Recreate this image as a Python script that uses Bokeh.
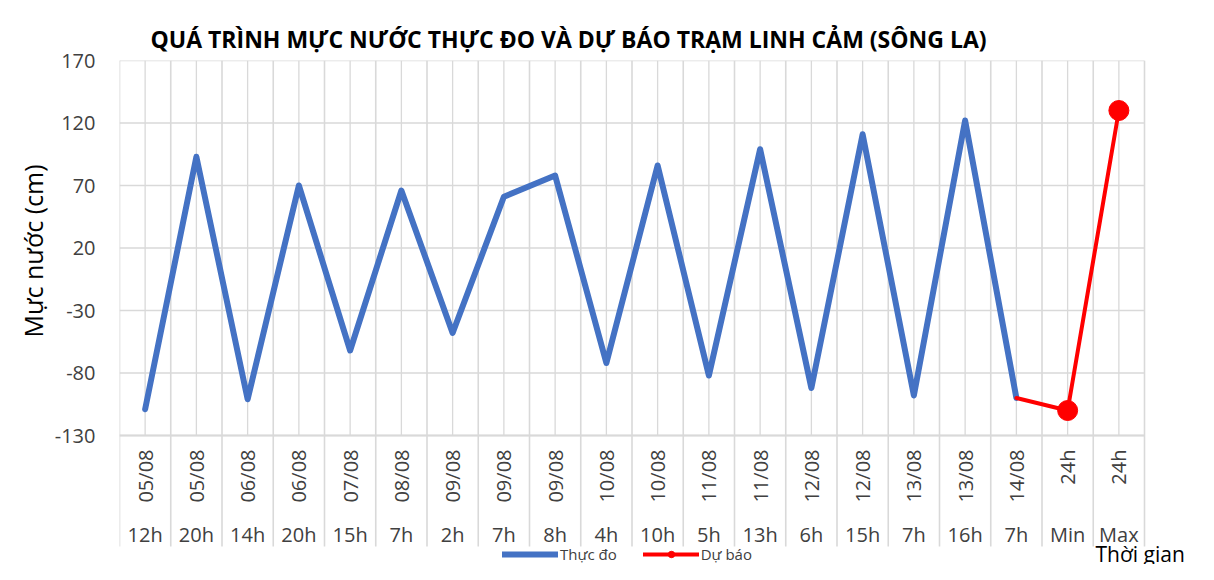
from math import pi
from bokeh.plotting import figure
from bokeh.models import (FixedTicker, Legend, LegendItem, Label, LabelSet,
                          ColumnDataSource, Title)
from bokeh.core.properties import value
from bokeh.embed import file_html
from bokeh.resources import INLINE

# ---- data ----
dates = ["05/08", "05/08", "06/08", "06/08", "07/08", "08/08", "09/08", "09/08",
         "09/08", "10/08", "10/08", "11/08", "11/08", "12/08", "12/08", "13/08",
         "13/08", "14/08", "24h", "24h"]
hours = ["12h", "20h", "14h", "20h", "15h", "7h", "2h", "7h", "8h", "4h", "10h",
         "5h", "13h", "6h", "15h", "7h", "16h", "7h", "Min", "Max"]
observed = [-109, 93, -101, 70, -62, 66, -48, 61, 78, -72, 86, -82, 99, -92,
            111, -98, 122, -100]
forecast = [-100, -110, 130]          # starts at the last observed point
y_ticks = [-130, -80, -30, 20, 70, 120, 170]
y_tick_labels = ["-130", "-80", "-30", "20", "70", "120", "170"]

title_text = "QUÁ TRÌNH MỰC NƯỚC THỰC ĐO VÀ DỰ BÁO TRẠM LINH CẢM (SÔNG LA)"
y_title = "Mực nước (cm)"
x_title = "Thời gian"
legend_labels = ["Thực đo", "Dự báo"]

# ---- layout (pixels) ----
W, H = 1198, 564
LEFT, TOP = 119, 60          # plot-area top-left corner
PLOT_W, PLOT_H = 1025, 375   # plot-area size (value axis part)

n = len(dates)
x_all = list(range(n))
x_obs = x_all[:len(observed)]
x_fc = x_all[len(observed) - 1:len(observed) - 1 + len(forecast)]
x_mark = x_fc[1:]
y_mark = forecast[1:]
boundaries = [i - 0.5 for i in range(n + 1)]

ymin, ymax = y_ticks[0], y_ticks[-1]
u_per_px_y = (ymax - ymin) / PLOT_H
u_per_px_x = n / PLOT_W
frame_h = H - TOP
frame_w = W - LEFT
y_lo = ymax - frame_h * u_per_px_y           # frame also holds category rows
x_lo = -0.5
x_hi = x_lo + frame_w * u_per_px_x


def y_at(px_from_top):
    return ymax - (px_from_top - TOP) * u_per_px_y


FONT = "Open Sans"
GRID = "#d9d9d9"
TXT = "#404040"

p = figure(width=W, height=H, x_range=(x_lo, x_hi), y_range=(y_lo, ymax),
           x_axis_type=None, output_backend="svg", toolbar_location=None,
           min_border_left=LEFT, min_border_right=0, min_border_top=TOP,
           min_border_bottom=0)
p.outline_line_color = None
p.background_fill_color = "white"
p.border_fill_color = "white"
p.ygrid.visible = False

# title
p.title.text = title_text
p.title.text_font = FONT
p.title.text_font_size = "23px"
p.title.text_font_style = "bold"
p.title.text_color = "#000000"
p.title.align = "left"
p.title.offset = 31
p.title.standoff = 12

# y axis
p.yaxis.ticker = FixedTicker(ticks=y_ticks)
p.yaxis.major_label_overrides = {v: s for v, s in zip(y_ticks, y_tick_labels)}
p.yaxis.axis_line_color = None
p.yaxis.major_tick_line_color = None
p.yaxis.minor_tick_line_color = None
p.yaxis.major_label_text_font = FONT
p.yaxis.major_label_text_font_size = "20px"
p.yaxis.major_label_text_color = TXT
p.yaxis.major_label_standoff = 18

p.add_layout(Title(text=y_title, align="left", offset=227, standoff=3,
                   text_font=FONT, text_font_size="25px",
                   text_font_style="normal", text_color="#000000"), "left")

# grid lines (value part) and category separators
p.segment(x0=x_lo, x1=n - 0.5, y0=y_ticks, y1=y_ticks, line_color=GRID,
          line_width=1.3)
p.segment(x0=x_all, x1=x_all, y0=ymin, y1=ymax, line_color=GRID,
          line_width=1.3)
p.segment(x0=boundaries, x1=boundaries, y0=y_at(546), y1=ymax,
          line_color=GRID, line_width=1.6)
p.segment(x0=[x_lo], x1=[n - 0.5], y0=[ymin], y1=[ymin], line_color=GRID,
          line_width=2.2)

# series
r_obs = p.line(x_obs, observed, line_color="#4472C4", line_width=6,
               line_join="round", line_cap="round")
r_fc = p.line(x_fc, forecast, line_color="#FF0000", line_width=4,
              line_join="round", line_cap="round")
r_mk = p.scatter(x_mark, y_mark, size=20, marker="circle",
                 fill_color="#FF0000", line_color="#FF0000")

# category labels (two levels)
src = ColumnDataSource(dict(x=x_all, dates=dates, hours=hours))
p.add_layout(LabelSet(x="x", y=H - 449, y_units="screen", text="dates",
                      source=src, angle=pi / 2, text_align="right",
                      text_baseline="middle", text_font=value(FONT),
                      text_font_size=value("20px"), text_color=TXT))
p.add_layout(LabelSet(x="x", y=H - 534, y_units="screen", text="hours",
                      source=src, text_align="center", text_baseline="middle",
                      text_font=value(FONT), text_font_size=value("20px"),
                      text_color=TXT))

legend = Legend(items=[LegendItem(label=legend_labels[0], renderers=[r_obs]),
                       LegendItem(label=legend_labels[1], renderers=[r_fc, r_mk])],
                orientation="horizontal", location=(383, 0),
                label_text_font=FONT, label_text_font_size="15px",
                label_text_color=TXT, glyph_width=56, glyph_height=16,
                label_height=16, spacing=26, padding=0, margin=0,
                label_standoff=2, border_line_color=None,
                background_fill_alpha=0)
p.add_layout(legend, "center")

p.add_layout(Label(x=1095 - LEFT, y=H - 553, x_units="screen", y_units="screen",
                   text=x_title, text_font=FONT, text_font_size="21px",
                   text_color="#000000", text_baseline="middle",
                   text_align="left"))

open("out.html", "w").write(file_html(p, INLINE))
